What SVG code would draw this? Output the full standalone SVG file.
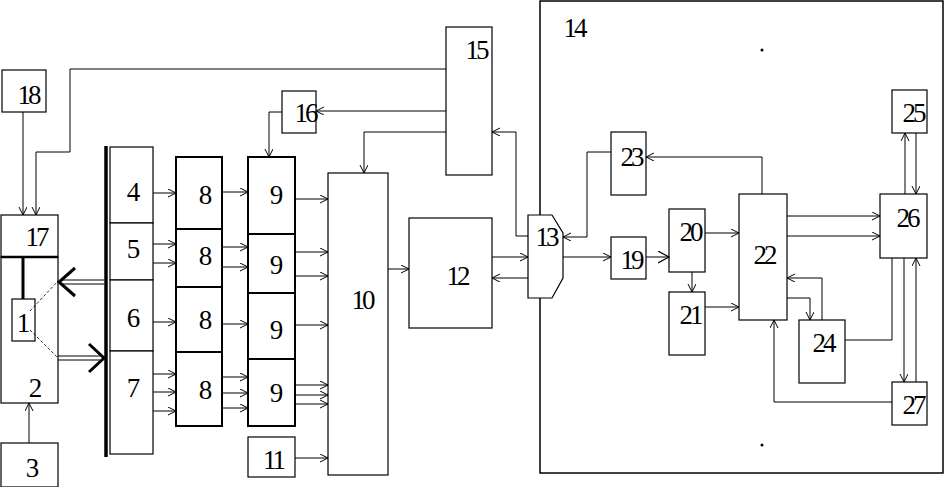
<svg xmlns="http://www.w3.org/2000/svg" width="945" height="487" viewBox="0 0 945 487">
<defs>
<marker id="a" markerWidth="10" markerHeight="10" refX="8" refY="4" orient="auto" markerUnits="userSpaceOnUse">
<path d="M0,0 L8,4 L0,8" fill="none" stroke="#000" stroke-width="1"/>
</marker>
<marker id="b" markerWidth="14" markerHeight="14" refX="11" refY="6" orient="auto" markerUnits="userSpaceOnUse">
<path d="M0,0 L11,6 L0,12" fill="none" stroke="#000" stroke-width="1.2"/>
</marker>
</defs>
<style>
.bx{fill:#fff;stroke:#000;stroke-width:1.2}
.tk{fill:#fff;stroke:#000;stroke-width:2}
.fr{fill:none;stroke:#000;stroke-width:1.5}
text{font-family:'Liberation Serif','Times New Roman',serif;font-size:27px;text-anchor:middle;fill:#000;letter-spacing:-3px}
.c{fill:none;stroke:#000;stroke-width:1}
.ca{fill:none;stroke:#000;stroke-width:1;marker-end:url(#a)}
.bg{fill:none;stroke:#000;stroke-width:3}
</style>
<rect width="945" height="487" fill="#fff"/>
<g id="n14"><rect class="fr" x="540" y="1" width="403" height="472"/><text x="574" y="37">14</text><circle cx="762" cy="50" r="1.5"/><circle cx="762" cy="445" r="1.5"/></g>
<g id="n18"><rect class="bx" x="2" y="70" width="44" height="42"/><text x="28" y="104">18</text></g>
<g id="n17"><rect class="bx" x="1" y="215" width="57" height="42"/><text x="36" y="246">17</text></g>
<g id="n2"><rect class="bx" x="1" y="257" width="57" height="146"/><line x1="1" y1="257" x2="58" y2="257" stroke="#000" stroke-width="2.5"/><line x1="23" y1="257" x2="23" y2="299" stroke="#000" stroke-width="3"/><text x="34" y="397">2</text></g>
<g id="n1"><rect class="bx" x="12" y="299" width="23" height="42"/><text x="22" y="332">1</text><line x1="30" y1="311" x2="58" y2="281" stroke="#000" stroke-width="0.8" stroke-dasharray="3,2"/><line x1="30" y1="330" x2="58" y2="358" stroke="#000" stroke-width="0.8" stroke-dasharray="3,2"/></g>
<g id="n3"><rect class="bx" x="1" y="443" width="57" height="44"/><text x="31" y="477">3</text></g>
<g id="bus"><line x1="106" y1="146" x2="106" y2="457" stroke="#000" stroke-width="3.5"/></g>
<g id="n4"><rect class="bx" x="110" y="147" width="43" height="76"/><text x="132" y="201">4</text></g>
<g id="n5"><rect class="bx" x="110" y="223" width="43" height="57"/><text x="132" y="258">5</text></g>
<g id="n6"><rect class="bx" x="110" y="280" width="43" height="71"/><text x="132" y="327">6</text></g>
<g id="n7"><rect class="bx" x="110" y="351" width="43" height="103"/><text x="132" y="397">7</text></g>
<g id="n8"><rect class="tk" x="176" y="157" width="46" height="72"/><text x="204" y="204">8</text><rect class="tk" x="176" y="229" width="46" height="58"/><text x="204" y="265">8</text><rect class="tk" x="176" y="287" width="46" height="65"/><text x="204" y="329">8</text><rect class="tk" x="176" y="352" width="46" height="74"/><text x="204" y="399">8</text></g>
<g id="n9"><rect class="tk" x="248" y="157" width="47" height="77"/><text x="275" y="204">9</text><rect class="tk" x="248" y="234" width="47" height="59"/><text x="275" y="274">9</text><rect class="tk" x="248" y="293" width="47" height="66"/><text x="275" y="339">9</text><rect class="tk" x="248" y="359" width="47" height="67"/><text x="275" y="402">9</text></g>
<g id="n11"><rect class="bx" x="248" y="437" width="47" height="40"/><text x="273" y="469">11</text></g>
<g id="n10"><rect class="bx" x="328" y="173" width="60" height="302"/><text x="362" y="309">10</text></g>
<g id="n12"><rect class="bx" x="409" y="218" width="83" height="110"/><text x="457" y="285">12</text></g>
<g id="n15"><rect class="bx" x="446" y="27" width="46" height="148"/><text x="476" y="59">15</text></g>
<g id="n16"><rect class="bx" x="282" y="91" width="34" height="42"/><text x="305" y="122">16</text></g>
<g id="n13"><polygon class="bx" points="528,215 552,215 563,233 563,278 552,298 528,298"/><text x="546" y="246">13</text></g>
<g id="n23"><rect class="bx" x="611" y="132" width="35" height="63"/><text x="631" y="166">23</text></g>
<g id="n19"><rect class="bx" x="611" y="237" width="35" height="42"/><text x="631" y="269">19</text></g>
<g id="n20"><rect class="bx" x="669" y="209" width="36" height="63"/><text x="690" y="241">20</text></g>
<g id="n21"><rect class="bx" x="669" y="292" width="36" height="63"/><text x="690" y="324">21</text></g>
<g id="n22"><rect class="bx" x="739" y="194" width="48" height="126"/><text x="764" y="264">22</text></g>
<g id="n24"><rect class="bx" x="799" y="320" width="46" height="63"/><text x="823" y="352">24</text></g>
<g id="n25"><rect class="bx" x="892" y="90" width="35" height="43"/><text x="913" y="122">25</text></g>
<g id="n26"><rect class="bx" x="880" y="194" width="47" height="64"/><text x="907" y="227">26</text></g>
<g id="n27"><rect class="bx" x="892" y="382" width="35" height="43"/><text x="913" y="414">27</text></g>
<g id="connectors">
<line class="ca" x1="23" y1="112" x2="23" y2="215"/>
<polyline class="ca" points="446,69 70,69 70,152 36,152 36,215"/>
<line class="ca" x1="29" y1="443" x2="29" y2="403"/>
<line class="c" x1="104" y1="280" x2="60" y2="280" stroke-width="1.5"/>
<line class="c" x1="104" y1="284" x2="60" y2="284" stroke-width="1.5"/>
<path class="bg" d="M75,268 L59,282 L75,296"/>
<line class="c" x1="58" y1="356" x2="100" y2="356" stroke-width="1.5"/>
<line class="c" x1="58" y1="360" x2="100" y2="360" stroke-width="1.5"/>
<path class="bg" d="M89,344 L104,358 L89,372"/>
<line class="ca" x1="153" y1="193" x2="176" y2="193"/>
<line class="ca" x1="153" y1="244" x2="176" y2="244"/>
<line class="ca" x1="153" y1="263" x2="176" y2="263"/>
<line class="ca" x1="153" y1="322" x2="176" y2="322"/>
<line class="ca" x1="153" y1="374" x2="176" y2="374"/>
<line class="ca" x1="153" y1="392" x2="176" y2="392"/>
<line class="ca" x1="153" y1="411" x2="176" y2="411"/>
<line class="ca" x1="222" y1="192" x2="248" y2="192"/>
<line class="ca" x1="222" y1="247" x2="248" y2="247"/>
<line class="ca" x1="222" y1="267" x2="248" y2="267"/>
<line class="ca" x1="222" y1="324" x2="248" y2="324"/>
<line class="ca" x1="222" y1="377" x2="248" y2="377"/>
<line class="ca" x1="222" y1="393" x2="248" y2="393"/>
<line class="ca" x1="222" y1="408" x2="248" y2="408"/>
<line class="ca" x1="295" y1="199" x2="328" y2="199"/>
<line class="ca" x1="295" y1="252" x2="328" y2="252"/>
<line class="ca" x1="295" y1="276" x2="328" y2="276"/>
<line class="ca" x1="295" y1="325" x2="328" y2="325"/>
<line class="ca" x1="295" y1="385" x2="328" y2="385"/>
<line class="ca" x1="295" y1="395" x2="328" y2="395"/>
<line class="ca" x1="295" y1="404" x2="328" y2="404"/>
<line class="ca" x1="295" y1="458" x2="328" y2="458"/>
<line class="ca" x1="446" y1="111" x2="316" y2="111"/>
<polyline class="ca" points="282,112 269,112 269,157"/>
<polyline class="ca" points="446,132 364,132 364,173"/>
<polyline class="ca" points="528,236 516,236 516,132 492,132"/>
<line class="ca" x1="388" y1="269" x2="409" y2="269"/>
<line class="ca" x1="492" y1="257" x2="528" y2="257"/>
<line class="ca" x1="528" y1="278" x2="492" y2="278"/>
<polyline class="ca" points="611,152 587,152 587,237 563,237"/>
<polyline class="ca" points="762,194 762,157 646,157" stroke-width="1.5"/>
<line class="ca" x1="563" y1="257" x2="611" y2="257"/>
<line class="c" x1="646" y1="257" x2="669" y2="257" marker-end="url(#b)"/>
<line class="ca" x1="692" y1="272" x2="692" y2="292"/>
<line class="ca" x1="705" y1="233" x2="739" y2="233"/>
<line class="ca" x1="705" y1="307" x2="739" y2="307"/>
<line class="ca" x1="787" y1="216" x2="880" y2="216"/>
<line class="ca" x1="787" y1="236" x2="880" y2="236"/>
<line class="ca" x1="905" y1="194" x2="905" y2="133"/>
<line class="ca" x1="916" y1="133" x2="916" y2="194"/>
<polyline class="ca" points="822,320 822,278 787,278"/>
<polyline class="ca" points="787,298 810,298 810,320"/>
<polyline class="c" points="845,340 892,340 892,258"/>
<line class="ca" x1="904" y1="258" x2="904" y2="382"/>
<line class="ca" x1="916" y1="382" x2="916" y2="258"/>
<polyline class="ca" points="892,402 774,402 774,320"/>
</g>
</svg>
